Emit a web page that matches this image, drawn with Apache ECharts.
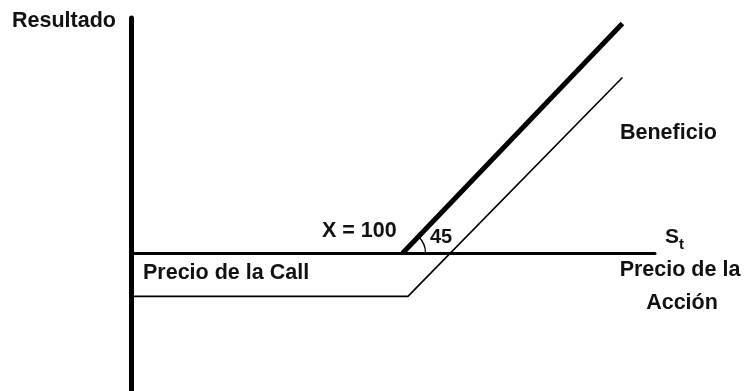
<!DOCTYPE html>
<html>
<head>
<meta charset="utf-8">
<script src="https://cdn.jsdelivr.net/npm/echarts@6/dist/echarts.min.js"></script>
<style>
  html,body{margin:0;padding:0;background:#fff;}
  #main{width:744px;height:391px;}
</style>
</head>
<body>
<div id="main"></div>
<script>
// datos (eje x: precio de la accion, eje y: resultado)
let strike = 100
let prima = -16
let largoX = [100, 181]      // linea gruesa: resultado sin prima
let largoY = [0, 85]
let callX = [0, 102, 181]    // linea fina: resultado con prima
let callY = [prima, prima, 65]

let ejeX = [0, 193]
let ejeY = [-51, 87]

function pares(xs, ys){
  let out = []
  for(let i = 0; i < xs.length; i++){
    out.push([xs[i], ys[i]])
  }
  return out
}

var myChart = echarts.init(document.getElementById('main'))
let fuente = '"Liberation Sans", Arial, sans-serif'
// texto en negrita
let txt = function(x, y, s, size, align){
  return {
    type: 'text', x: x, y: y,
    style: {text: s, font: 'bold ' + size + 'px ' + fuente, fill: '#111',
      textAlign: align || 'left', textVerticalAlign: 'middle'}
  }
}

var option = {
  backgroundColor: '#fff',
  animation: false,
  grid: {left: 131, right: 89, top: 18, bottom: 0},
  xAxis: {
    type: 'value', min: ejeX[0], max: ejeX[1],
    axisLine: {show: true, onZero: true, lineStyle: {color: '#000', width: 3}},
    axisTick: {show: false}, axisLabel: {show: false}, splitLine: {show: false}
  },
  yAxis: {
    type: 'value', min: ejeY[0], max: ejeY[1],
    axisLine: {show: true, lineStyle: {color: '#000', width: 5}},
    axisTick: {show: false}, axisLabel: {show: false}, splitLine: {show: false}
  },
  series: [{
    type: 'line', data: pares(largoX, largoY), symbol: 'none',
    lineStyle: {color: '#000', width: 5}
  }, {
    type: 'line', data: pares(callX, callY), symbol: 'none',
    lineStyle: {color: '#000', width: 1.6}
  }]
}
myChart.setOption(option)

// arco de 45 grados en el strike
let p0 = myChart.convertToPixel({seriesIndex: 0}, [strike, 0])
let p1 = myChart.convertToPixel({seriesIndex: 0}, [largoX[1], largoY[1]])
let ang = Math.atan2(p1[1] - p0[1], p1[0] - p0[0])

myChart.setOption({
  graphic: [
    {type: 'arc', shape: {cx: p0[0], cy: p0[1], r: 23, startAngle: ang, endAngle: 0, clockwise: true},
      style: {stroke: '#000', lineWidth: 1.3, fill: null}},
    txt(12, 21, 'Resultado', 21.5),
    txt(322, 231, 'X = 100', 21.5),
    txt(430, 237, '45', 20),
    txt(665, 237, 'S', 21),
    txt(679, 245, 't', 15),
    txt(680, 270, 'Precio de la', 21.5, 'center'),
    txt(682, 303, 'Acción', 21.5, 'center'),
    txt(620, 133, 'Beneficio', 21.5),
    txt(143, 273, 'Precio de la Call', 21.5)
  ]
})
</script>
</body>
</html>
